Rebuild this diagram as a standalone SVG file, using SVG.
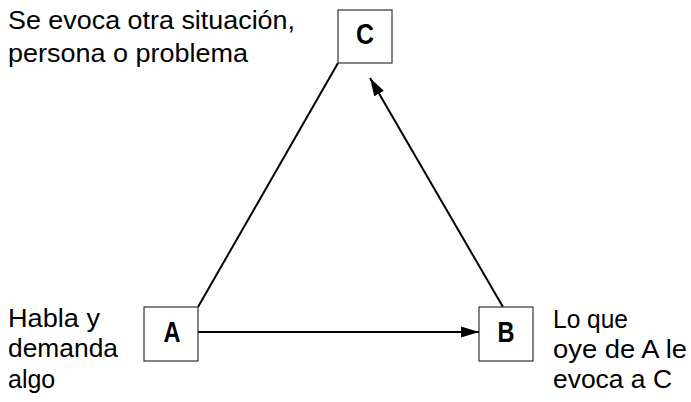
<svg xmlns="http://www.w3.org/2000/svg" width="691" height="402" viewBox="0 0 691 402">
<style>
.box{fill:#fff;stroke:#333;stroke-width:1.2}
.lbl{font-family:"Liberation Sans",Arial,sans-serif;font-weight:bold;font-size:29px;fill:#000;text-anchor:middle}
.txt{font-family:"Liberation Sans",Arial,sans-serif;font-size:25px;fill:#000}
.ln{stroke:#000;stroke-width:2;fill:none}
</style>
<defs>
<marker id="ah" markerUnits="userSpaceOnUse" markerWidth="20" markerHeight="12" refX="18" refY="6" orient="auto">
<path d="M0,0.5 L18,6 L0,11.5 Z" fill="#000"/>
</marker>
</defs>
<g id="connectors">
<line class="ln" x1="198" y1="307" x2="338" y2="63"/>
<line class="ln" x1="198" y1="332" x2="479" y2="332" marker-end="url(#ah)"/>
<line class="ln" x1="503" y1="307" x2="370" y2="78" marker-end="url(#ah)"/>
</g>
<g id="node-C">
<rect class="box" x="338" y="10" width="54" height="53"/>
<text class="lbl" x="365" y="44" textLength="18" lengthAdjust="spacingAndGlyphs">C</text>
</g>
<g id="node-A">
<rect class="box" x="144" y="307" width="54" height="54"/>
<text class="lbl" x="172" y="342" textLength="17" lengthAdjust="spacingAndGlyphs">A</text>
</g>
<g id="node-B">
<rect class="box" x="479" y="307" width="54" height="54"/>
<text class="lbl" x="506" y="342" textLength="17" lengthAdjust="spacingAndGlyphs">B</text>
</g>
<g id="label-C">
<text class="txt" x="8" y="29" textLength="287" lengthAdjust="spacingAndGlyphs">Se evoca otra situación,</text>
<text class="txt" x="8" y="62" textLength="240" lengthAdjust="spacingAndGlyphs">persona o problema</text>
</g>
<g id="label-A">
<text class="txt" x="8" y="327" textLength="92" lengthAdjust="spacingAndGlyphs">Habla y</text>
<text class="txt" x="8" y="357" textLength="110" lengthAdjust="spacingAndGlyphs">demanda</text>
<text class="txt" x="8" y="388">algo</text>
</g>
<g id="label-B">
<text class="txt" x="553" y="328" textLength="75" lengthAdjust="spacingAndGlyphs">Lo que</text>
<text class="txt" x="553" y="358" textLength="134" lengthAdjust="spacingAndGlyphs">oye de A le</text>
<text class="txt" x="553" y="388" textLength="119" lengthAdjust="spacingAndGlyphs">evoca a C</text>
</g>
</svg>
